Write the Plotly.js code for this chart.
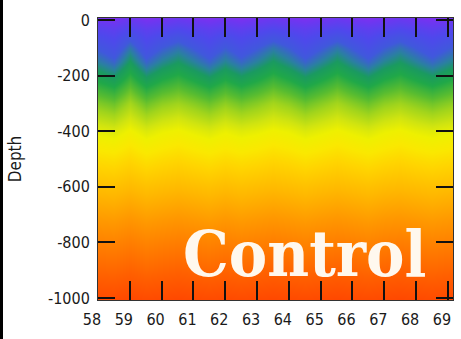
<!DOCTYPE html>
<html>
<head>
<meta charset="utf-8">
<script src="https://cdn.plot.ly/plotly-3.0.1.min.js"></script>
<style>
  html, body { margin: 0; padding: 0; background: #ffffff; overflow: hidden; }
  #wrap { position: relative; width: 461px; height: 339px; }
  #chart { width: 461px; height: 339px; }
  #edge { position: absolute; left: 0; top: 0; width: 3px; height: 339px; background: #000; }
</style>
</head>
<body>
<div id="wrap">
  <div id="chart"></div>
  <div id="edge"></div>
</div>
<script>
// Longitude-like x positions (column centres) and depths (row centres)
const xCols = [57.5,58,58.5,59,59.5,60,60.5,61,61.5,62,62.5,63,63.5,64,64.5,65,65.5,66,66.5,67,67.5,68,68.5,69,69.5];
const depths = [10,-30,-60,-100,-150,-200,-250,-300,-350,-400,-450,-500,-600,-700,-800,-900,-1010];

// Field values read row by row (0 = violet ... 10 = red)
const row10   = [0.5,0.5,0.3,0.7,0.3,0.5,0.7,0.5,0.3,0.5,0.3,0.5,0.7,0.5,0.3,0.5,0.7,0.5,0.3,0.5,0.7,0.5,0.3,0.5,0.7];
const row30   = [1.3,1.3,1.1,1.5,1.1,1.3,1.5,1.3,1.1,1.3,1.1,1.3,1.5,1.3,1.1,1.3,1.5,1.3,1.1,1.3,1.5,1.3,1.1,1.3,1.5];
const row60   = [1.8,1.75,1.5,2.1,1.5,1.85,2.1,1.8,1.5,1.85,1.55,1.8,2.1,1.85,1.5,1.8,2.1,1.8,1.5,1.85,2.1,1.8,1.55,1.8,2.05];
const row100  = [2.3,2.25,1.9,2.7,1.9,2.35,2.65,2.3,1.9,2.35,1.95,2.3,2.7,2.35,1.9,2.3,2.7,2.3,1.9,2.35,2.65,2.3,1.95,2.3,2.6];
const row150  = [2.85,2.8,2.45,3.25,2.45,2.9,3.2,2.85,2.45,2.9,2.5,2.85,3.25,2.9,2.45,2.85,3.25,2.85,2.45,2.9,3.2,2.85,2.5,2.85,3.15];
const row200  = [3.5,3.45,3.15,3.85,3.15,3.55,3.8,3.5,3.15,3.55,3.2,3.5,3.85,3.55,3.15,3.5,3.85,3.5,3.15,3.55,3.8,3.5,3.2,3.5,3.75];
const row250  = [4.1,4.05,3.8,4.4,3.8,4.15,4.35,4.1,3.8,4.15,3.85,4.1,4.4,4.15,3.8,4.1,4.4,4.1,3.8,4.15,4.35,4.1,3.85,4.1,4.35];
const row300  = [4.7,4.65,4.45,4.95,4.45,4.75,4.9,4.7,4.45,4.75,4.5,4.7,4.95,4.75,4.45,4.7,4.95,4.7,4.45,4.75,4.9,4.7,4.5,4.7,4.9];
const row350  = [5.2,5.15,5.0,5.4,5.0,5.25,5.4,5.2,5.0,5.25,5.05,5.2,5.4,5.25,5.0,5.2,5.4,5.2,5.0,5.25,5.4,5.2,5.05,5.2,5.35];
const row400  = [5.7,5.65,5.55,5.85,5.55,5.75,5.85,5.7,5.55,5.75,5.6,5.7,5.85,5.75,5.55,5.7,5.85,5.7,5.55,5.75,5.85,5.7,5.6,5.7,5.8];
const row450  = [6.1,6.08,6.0,6.22,5.98,6.12,6.22,6.1,5.98,6.12,6.0,6.1,6.22,6.12,5.98,6.1,6.22,6.1,5.98,6.12,6.22,6.1,6.0,6.1,6.2];
const row500  = [6.45,6.43,6.38,6.55,6.35,6.47,6.55,6.45,6.35,6.47,6.38,6.45,6.55,6.47,6.35,6.45,6.55,6.45,6.35,6.47,6.55,6.45,6.38,6.45,6.52];
const row600  = [7.1,7.08,7.04,7.16,7.03,7.1,7.16,7.1,7.03,7.12,7.04,7.1,7.16,7.1,7.03,7.1,7.16,7.1,7.03,7.12,7.16,7.1,7.04,7.1,7.15];
const row700  = [7.7,7.68,7.64,7.76,7.63,7.7,7.76,7.7,7.63,7.72,7.64,7.7,7.76,7.7,7.63,7.7,7.76,7.7,7.63,7.72,7.76,7.7,7.64,7.7,7.75];
const row800  = [8.3,8.28,8.24,8.36,8.23,8.3,8.36,8.3,8.23,8.32,8.24,8.3,8.36,8.3,8.23,8.3,8.36,8.3,8.23,8.32,8.36,8.3,8.24,8.3,8.35];
const row900  = [8.9,8.88,8.84,8.96,8.83,8.9,8.96,8.9,8.83,8.92,8.84,8.9,8.96,8.9,8.83,8.9,8.96,8.9,8.83,8.92,8.96,8.9,8.84,8.9,8.95];
const row1010 = [9.6,9.58,9.56,9.64,9.56,9.6,9.64,9.6,9.56,9.6,9.56,9.6,9.64,9.6,9.56,9.6,9.64,9.6,9.56,9.6,9.64,9.6,9.56,9.6,9.64];

const xTickVals = [58,59,60,61,62,63,64,65,66,67,68,69];
const xTickText = ['58','59','60','61','62','63','64','65','66','67','68','69'];
const yTickVals = [0,-200,-400,-600,-800,-1000];
const yTickText = ['0','-200','-400','-600','-800','-1000'];
const yTitle = 'Depth';
const label = 'Control';

const zRows = [row10,row30,row60,row100,row150,row200,row250,row300,row350,row400,row450,row500,row600,row700,row800,row900,row1010];

const colorscale = [
  [0.00,'#8a2af0'],[0.08,'#6a38f0'],[0.16,'#4e48ec'],[0.23,'#4058dc'],
  [0.28,'#2a80a0'],[0.32,'#1a9a60'],[0.37,'#20a848'],[0.43,'#58bc30'],
  [0.49,'#a0d41c'],[0.54,'#d0e410'],[0.58,'#eef000'],[0.62,'#fae800'],
  [0.66,'#ffd400'],[0.72,'#ffb800'],[0.78,'#ff9800'],[0.84,'#ff7c00'],
  [0.90,'#ff6000'],[0.96,'#ff4800'],[1.00,'#ff3c00']
];

const tickFont = {family: 'DejaVu Sans Condensed, Liberation Sans Narrow, sans-serif', size: 16, color: '#1a1a1a'};

const trace = {
  type: 'heatmap', x: xCols, y: depths, z: zRows,
  zmin: 0, zmax: 10, colorscale: colorscale, zsmooth: 'best',
  showscale: false, hoverinfo: 'skip'
};

const layout = {
  width: 461, height: 339,
  margin: {l: 98, r: 8, t: 18, b: 39, pad: 0},
  paper_bgcolor: '#ffffff', plot_bgcolor: '#ffffff',
  showlegend: false,
  xaxis: {
    range: [58, 69.16], tickvals: xTickVals, ticktext: xTickText,
    ticks: 'inside', ticklen: 19, tickwidth: 2, tickcolor: '#111',
    mirror: 'ticks', showline: true, linecolor: '#333', linewidth: 1,
    showgrid: false, zeroline: false, tickfont: tickFont,
    ticklabelshift: -6, ticklabelstandoff: 5
  },
  yaxis: {
    range: [-1007, 7], tickvals: yTickVals, ticktext: yTickText,
    ticks: 'inside', ticklen: 17, tickwidth: 2, tickcolor: '#111',
    mirror: 'ticks', showline: true, linecolor: '#333', linewidth: 1,
    showgrid: false, zeroline: false, tickfont: tickFont,
    ticklabelstandoff: 4,
    title: {text: yTitle, font: {family: 'DejaVu Sans Condensed, Liberation Sans Narrow, sans-serif', size: 17, color: '#1a1a1a'}, standoff: 22}
  },
  annotations: [{
    text: label, xref: 'x', yref: 'y', x: 64.5, y: -840,
    showarrow: false, xanchor: 'center', yanchor: 'middle',
    font: {family: 'DejaVu Serif Condensed, DejaVu Serif, serif', size: 64, color: '#fff8ee', weight: 'bold'}
  }]
};

Plotly.newPlot('chart', [trace], layout, {staticPlot: true, displayModeBar: false});
</script>
</body>
</html>
